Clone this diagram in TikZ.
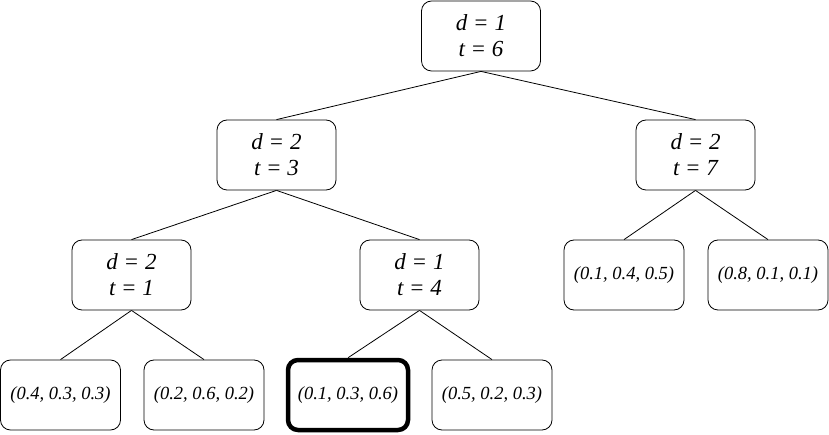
\documentclass[tikz,border=0pt]{standalone}
\usepackage{fontspec}
\setmainfont{Liberation Serif}

\begin{document}
\begin{tikzpicture}[x=1pt,y=-1pt]
        \tikzset{StateStyle/.style={draw, rounded corners=10pt,
        minimum width=119pt, minimum height=70pt, align=center,
        line width=0.8pt, font=\fontsize{23}{26}\selectfont\itshape}}
        \tikzset{LeafStyle/.style={StateStyle, minimum width=120pt,
        font=\fontsize{18.5}{20}\selectfont\itshape}}
        \tikzset{BestStyle/.style={LeafStyle, line width=4.5pt}}
        \tikzset{EdgeStyle/.style={line width=0.8pt}}
        \useasboundingbox (0,0) rectangle (829,435);
        \node[StateStyle] (Root) at (481,36) {d = 1\\t = 6};
        \node[StateStyle] (L) at (276.5,155) {d = 2\\t = 3};
        \node[StateStyle] (R) at (695.5,155) {d = 2\\t = 7};
        \node[StateStyle] (LL) at (131.5,275) {d = 2\\t = 1};
        \node[StateStyle] (LR) at (419.5,275) {d = 1\\t = 4};
        \node[LeafStyle] (RL) at (624,275) {(0.1, 0.4, 0.5)};
        \node[LeafStyle] (RR) at (768,275) {(0.8, 0.1, 0.1)};
        \node[LeafStyle] (LLL) at (60.5,395) {(0.4, 0.3, 0.3)};
        \node[LeafStyle] (LLR) at (204,395) {(0.2, 0.6, 0.2)};
        \node[BestStyle] (LRL) at (348,395) {(0.1, 0.3, 0.6)};
        \node[LeafStyle] (LRR) at (492,395) {(0.5, 0.2, 0.3)};
        \draw[EdgeStyle] (Root.south) -- (L.north);
        \draw[EdgeStyle] (Root.south) -- (R.north);
        \draw[EdgeStyle] (L.south) -- (LL.north);
        \draw[EdgeStyle] (L.south) -- (LR.north);
        \draw[EdgeStyle] (R.south) -- (RL.north);
        \draw[EdgeStyle] (R.south) -- (RR.north);
        \draw[EdgeStyle] (LL.south) -- (LLL.north);
        \draw[EdgeStyle] (LL.south) -- (LLR.north);
        \draw[EdgeStyle] (LR.south) -- (LRL.north);
        \draw[EdgeStyle] (LR.south) -- (LRR.north);
\end{tikzpicture}
\end{document}
